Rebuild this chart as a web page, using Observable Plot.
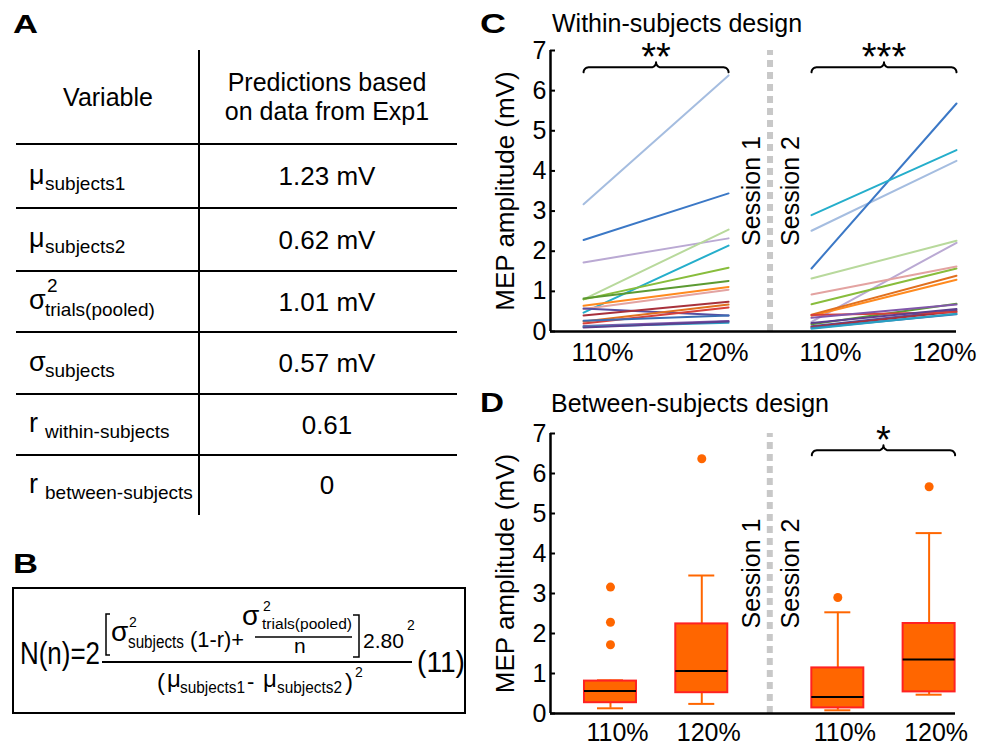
<!DOCTYPE html>
<html>
<head>
<meta charset="utf-8">
<script src="https://cdn.jsdelivr.net/npm/d3@7"></script>
<script src="https://cdn.jsdelivr.net/npm/@observablehq/plot@0.6"></script>
<style>
html, body { margin: 0; padding: 0; background: #fff; }
#page { position: relative; width: 988px; height: 745px; overflow: hidden; background: #fff;
        font-family: "Liberation Sans", Arial, Helvetica, sans-serif; }
#page svg { position: absolute; }
</style>
</head>
<body>
<div id="page"></div>
<script>
const FONT = '"Liberation Sans", Arial, Helvetica, sans-serif';

// ================= DATA =================
// Panel C: 17 subjects, MEP amplitude (mV) at 110% and 120% in two sessions
const subjectIds = ["s01","s02","s03","s04","s05","s06","s07","s08","s09","s10","s11","s12","s13","s14","s15","s16","s17"];
const s1_110 = [3.17, 2.28, 1.72, 0.80, 0.47, 0.80, 0.82, 0.64, 0.56, 0.57, 0.40, 0.25, 0.20, 0.27, 0.14, 0.12, 0.10];
const s1_120 = [6.38, 3.44, 2.32, 2.54, 2.14, 1.59, 1.26, 1.11, 1.04, 0.40, 0.74, 0.67, 0.60, 0.40, 0.26, 0.22, 0.25];
const s2_110 = [2.51, 1.57, 0.24, 1.32, 2.90, 0.68, 0.18, 0.39, 0.92, 0.13, 0.11, 0.42, 0.41, 0.09, 0.34, 0.07, 0.21];
const s2_120 = [4.25, 5.68, 2.21, 2.26, 4.52, 1.57, 0.69, 1.29, 1.62, 0.53, 0.50, 1.39, 0.48, 0.43, 0.67, 0.44, 0.56];

const intensityLabels = ["110%", "120%"];
const sessionLabels = ["Session 1", "Session 2"];
const yTicks = [0, 1, 2, 3, 4, 5, 6, 7];
const yLabel = "MEP amplitude (mV)";
const titleC = "Within-subjects design";
const titleD = "Between-subjects design";
const sigC = ["**", "***"];
const sigD = ["*"];

// Panel D: box-plot summaries (session1 110, session1 120, session2 110, session2 120)
const boxGroups   = ["S1 110%", "S1 120%", "S2 110%", "S2 120%"];
const boxQ1       = [0.27, 0.52, 0.14, 0.54];
const boxMedian   = [0.565, 1.06, 0.41, 1.35];
const boxQ3       = [0.81, 2.24, 1.14, 2.25];
const whiskerLow  = [0.13, 0.24, 0.08, 0.47];
const whiskerHigh = [0.83, 3.45, 2.53, 4.51];
const outlierGroup = [0, 0, 0, 1, 2, 3];
const outlierValue = [3.16, 2.28, 1.72, 6.37, 2.90, 5.67];

// Panel A table
const tableHeadVar = "Variable";
const tableHeadPred = ["Predictions based", "on data from Exp1"];
const tableSymbols = ["\u03bc", "\u03bc", "\u03c3", "\u03c3", "r", "r"];
const tableSubscripts = ["subjects1", "subjects2", "trials(pooled)", "subjects", "within-subjects", "between-subjects"];
const tableSuperscripts = ["", "", "2", "", "", ""];
const tableValues = ["1.23 mV", "0.62 mV", "1.01 mV", "0.57 mV", "0.61", "0"];

// Panel B formula pieces (typeset text)
const formulaPieces = [
  {t: "N(n)=2", x: 20, y: 664, fs: 31, tl: 80},
  {t: "\u03c3", x: 111, y: 641, fs: 28},
  {t: "2", x: 129, y: 627, fs: 14},
  {t: "subjects", x: 128, y: 648, fs: 18, tl: 56},
  {t: "(1-r)+", x: 190, y: 647, fs: 22, tl: 54},
  {t: "\u03c3", x: 242, y: 625, fs: 28},
  {t: "2", x: 263, y: 611, fs: 14},
  {t: "trials(pooled)", x: 262, y: 629, fs: 15.5, tl: 90},
  {t: "n", x: 294, y: 653, fs: 21},
  {t: "2.80", x: 363, y: 648, fs: 21, tl: 41},
  {t: "2", x: 407, y: 630, fs: 14},
  {t: "(11)", x: 417, y: 672, fs: 30, tl: 48},
  {t: "(", x: 157, y: 690, fs: 24},
  {t: "\u03bc", x: 167, y: 687, fs: 24},
  {t: "subjects1", x: 180, y: 693, fs: 16, tl: 65},
  {t: "-", x: 247, y: 689, fs: 22},
  {t: "\u03bc", x: 263, y: 687, fs: 24},
  {t: "subjects2", x: 277, y: 693, fs: 16, tl: 65},
  {t: ")", x: 345, y: 690, fs: 24},
  {t: "2", x: 355, y: 677, fs: 14}
];

// Styles
const subjectColors = ["#a5bde0","#3b78c6","#baa9d3","#b8d99c","#25aecb","#88bd3c","#5c9a32","#ff8a1f",
                       "#e3a3a1","#574ea0","#a8313b","#e0701f","#d7403b","#3b6db3","#8157aa","#2aa0c2","#5d3f8f"];
const ORANGE = "#ff6600", BOXEDGE = "#ff2222", DOTGRAY = "#c8c8c8";

// ================= STATIC OVERLAY (panels A, B, letters, titles) =================
const page = d3.select("#page");
const ov = page.append("svg").attr("width", 988).attr("height", 745)
  .style("left", "0px").style("top", "0px").attr("font-family", FONT);

function txt(x, y, s, fs, o = {}) {
  const t = ov.append("text").attr("x", x).attr("y", y).attr("font-size", fs).attr("fill", "#000").text(s);
  if (o.anchor) t.attr("text-anchor", o.anchor);
  if (o.bold) t.attr("font-weight", "bold");
  if (o.tl) t.attr("textLength", o.tl).attr("lengthAdjust", "spacingAndGlyphs");
  return t;
}
function seg(x1, y1, x2, y2, w = 2) {
  ov.append("line").attr("x1", x1).attr("y1", y1).attr("x2", x2).attr("y2", y2)
    .attr("stroke", "#000").attr("stroke-width", w);
}
function poly(pts, w = 1.5) {
  ov.append("polyline").attr("points", pts.map(p => p.join(",")).join(" "))
    .attr("fill", "none").attr("stroke", "#000").attr("stroke-width", w);
}

// panel letters & titles
txt(13, 33, "A", 26, {bold: true, tl: 25});
txt(13, 573, "B", 28, {bold: true, tl: 25});
txt(480, 33, "C", 28, {bold: true, tl: 26});
txt(480, 412, "D", 27, {bold: true, tl: 24});
txt(552, 32, titleC, 25);
txt(551, 412, titleD, 25);

// Table (panel A)
const tblX0 = 16, tblX1 = 457, tblColX = 199, tblTop = 50, tblHead = 144;
const rowBottoms = [208, 271, 332, 394, 455, 515];
seg(tblColX, tblTop, tblColX, rowBottoms[rowBottoms.length - 1], 2);
seg(tblX0, tblHead, tblX1, tblHead, 2);
rowBottoms.slice(0, -1).forEach(y => seg(tblX0, y, tblX1, y, 2));
txt(108, 106, tableHeadVar, 25, {anchor: "middle"});
txt(327, 91, tableHeadPred[0], 25, {anchor: "middle"});
txt(327, 120, tableHeadPred[1], 25, {anchor: "middle"});
tableValues.forEach((v, i) => {
  const top = i === 0 ? tblHead : rowBottoms[i - 1];
  const c = (top + rowBottoms[i]) / 2;
  txt(327, c + 9.3, v, 26, {anchor: "middle"});
  txt(29, c + 7.5, tableSymbols[i], 27);
  if (tableSuperscripts[i]) {
    txt(47, c - 9.5, tableSuperscripts[i], 19);
    txt(45, c + 14, tableSubscripts[i], 19);
  } else {
    txt(45, c + 13.5, tableSubscripts[i], 19);
  }
});

// Formula (panel B)
ov.append("rect").attr("x", 13).attr("y", 588).attr("width", 452).attr("height", 125)
  .attr("fill", "none").attr("stroke", "#000").attr("stroke-width", 2);
formulaPieces.forEach(p => txt(p.x, p.y, p.t, p.fs, {tl: p.tl}));
seg(102, 662, 412, 662, 2);
seg(255, 637, 352, 637, 1.5);
poly([[110, 614], [106, 614], [106, 655], [110, 655]]);
poly([[353, 615], [359, 615], [359, 657], [353, 657]]);

// ================= HELPERS =================
function bracePoints(x1, x2, yb, kx, ky, r = 5, n = 8) {
  const L = (x2 - x1) * kx, M = L / 2, P = [];
  const arc = (cx, cy, a0, a1) => {
    for (let k = 0; k <= n; k++) {
      const a = a0 + (a1 - a0) * k / n;
      P.push([cx + r * Math.cos(a), cy + r * Math.sin(a)]);
    }
  };
  arc(r, r, Math.PI, 1.5 * Math.PI);
  arc(M - r, -r, 0.5 * Math.PI, 0);
  arc(M + r, -r, Math.PI, 0.5 * Math.PI);
  arc(L - r, r, 1.5 * Math.PI, 2 * Math.PI);
  return P.map(([px, py]) => ({x: x1 + px / kx, y: yb - py / ky}));
}

const yMid = (yTicks[0] + yTicks[yTicks.length - 1]) / 2;
const BRACE_Y = 6.58;

// ================= PANEL C =================
const xDomC = [-0.228, 2.572], xRangeC = [70, 476];
const yRangeC = [331, 50];
const kxC = (xRangeC[1] - xRangeC[0]) / (xDomC[1] - xDomC[0]);
const kyC = (yRangeC[0] - yRangeC[1]) / 7;
const sessionOffsetC = 1.572;
const posC = [[0, 1], [sessionOffsetC, sessionOffsetC + 1]];
const sessionsC = [[s1_110, s1_120], [s2_110, s2_120]];
const lineData = [];
sessionsC.forEach((sess, si) => {
  subjectIds.forEach((id, i) => {
    sess.forEach((vals, ii) => lineData.push({id, key: id + "-" + si, x: posC[si][ii], y: vals[i]}));
  });
});
const midC = (posC[0][1] + posC[1][0]) / 2;
const x0C = xDomC[0];

const plotC = Plot.plot({
  width: 508, height: 370,
  marginLeft: 70, marginRight: 32, marginTop: 50, marginBottom: 39,
  x: {domain: xDomC, range: xRangeC},
  y: {domain: [0, 7], range: yRangeC},
  color: {domain: subjectIds, range: subjectColors},
  style: {fontFamily: FONT, background: "transparent", color: "black", overflow: "visible"},
  marks: [
    Plot.ruleX([midC], {y1: 0, y2: 7, stroke: DOTGRAY, strokeWidth: 6, strokeDasharray: "7,5"}),
    Plot.line(lineData, {x: "x", y: "y", z: "key", stroke: "id", strokeWidth: 2}),
    Plot.ruleX([x0C], {y1: 0, y2: 7, stroke: "black", strokeWidth: 2.5}),
    Plot.ruleY([0], {stroke: "black", strokeWidth: 2.5}),
    Plot.ruleY(yTicks, {x1: x0C, x2: x0C + 5 / kxC, stroke: "black", strokeWidth: 2}),
    Plot.axisY(yTicks, {tickSize: 0, tickPadding: 4, fontSize: 25, label: null}),
    Plot.axisX([posC[0][0], posC[1][0]], {tickSize: 0, tickPadding: 12, fontSize: 25, dx: 19, label: null, tickFormat: () => intensityLabels[0]}),
    Plot.axisX([posC[0][1], posC[1][1]], {tickSize: 0, tickPadding: 12, fontSize: 25, dx: -12, label: null, tickFormat: () => intensityLabels[1]}),
    Plot.text([yLabel], {x: () => x0C - 45 / kxC, y: () => yMid, rotate: -90, textAnchor: "middle", fontSize: 26}),
    Plot.text([sessionLabels[0]], {x: () => midC, y: () => yMid, rotate: -90, dx: -18, fontSize: 25}),
    Plot.text([sessionLabels[1]], {x: () => midC, y: () => yMid, rotate: -90, dx: 21, fontSize: 25}),
    Plot.line(bracePoints(posC[0][0], posC[0][1], BRACE_Y, kxC, kyC), {x: "x", y: "y", stroke: "black", strokeWidth: 2}),
    Plot.line(bracePoints(posC[1][0], posC[1][1], BRACE_Y, kxC, kyC), {x: "x", y: "y", stroke: "black", strokeWidth: 2}),
    Plot.text([{t: sigC[0], x: (posC[0][0] + posC[0][1]) / 2}, {t: sigC[1], x: (posC[1][0] + posC[1][1]) / 2}],
      {x: "x", y: () => BRACE_Y, text: "t", lineAnchor: "bottom", dy: 3, fontSize: 38})
  ]
});
plotC.style.left = "480px";
plotC.style.top = "0px";
page.node().appendChild(plotC);

// ================= PANEL D =================
const xDomD = [-0.657, 3.779], xRangeD = [70, 475];
const yRangeD = [330, 50];
const kxD = (xRangeD[1] - xRangeD[0]) / (xDomD[1] - xDomD[0]);
const kyD = (yRangeD[0] - yRangeD[1]) / 7;
const sessionOffsetD = 2.49;
const boxHalf = 26 / kxD, capHalf = 13 / kxD;
const boxData = boxGroups.map((g, i) => ({
  group: g,
  pos: (i % 2) + Math.floor(i / 2) * sessionOffsetD,
  q1: boxQ1[i], med: boxMedian[i], q3: boxQ3[i], lo: whiskerLow[i], hi: whiskerHigh[i],
  label: intensityLabels[i % 2]
}));
const outliers = outlierValue.map((v, i) => ({pos: boxData[outlierGroup[i]].pos, v}));
const midD = (boxData[1].pos + boxData[2].pos) / 2;
const x0D = xDomD[0];
const labelByPos = new Map(boxData.map(d => [d.pos, d.label]));
const braceD1 = boxData[2].pos - boxHalf, braceD2 = boxData[3].pos + boxHalf;

const plotD = Plot.plot({
  width: 508, height: 362,
  marginLeft: 70, marginRight: 33, marginTop: 50, marginBottom: 32,
  x: {domain: xDomD, range: xRangeD},
  y: {domain: [0, 7], range: yRangeD},
  style: {fontFamily: FONT, background: "transparent", color: "black", overflow: "visible"},
  marks: [
    Plot.ruleX([midD], {y1: 0, y2: 7, stroke: DOTGRAY, strokeWidth: 6, strokeDasharray: "7,5"}),
    Plot.ruleX(boxData, {x: "pos", y1: "q3", y2: "hi", stroke: ORANGE, strokeWidth: 2}),
    Plot.ruleX(boxData, {x: "pos", y1: "lo", y2: "q1", stroke: ORANGE, strokeWidth: 2}),
    Plot.ruleY(boxData, {y: "hi", x1: d => d.pos - capHalf, x2: d => d.pos + capHalf, stroke: ORANGE, strokeWidth: 2}),
    Plot.ruleY(boxData, {y: "lo", x1: d => d.pos - capHalf, x2: d => d.pos + capHalf, stroke: ORANGE, strokeWidth: 2}),
    Plot.rect(boxData, {x1: d => d.pos - boxHalf, x2: d => d.pos + boxHalf, y1: "q1", y2: "q3",
      fill: ORANGE, stroke: BOXEDGE, strokeWidth: 2}),
    Plot.ruleY(boxData, {y: "med", x1: d => d.pos - boxHalf, x2: d => d.pos + boxHalf, stroke: "black", strokeWidth: 2}),
    Plot.dot(outliers, {x: "pos", y: "v", r: 4.5, fill: ORANGE, stroke: null}),
    Plot.ruleX([x0D], {y1: 0, y2: 7, stroke: "black", strokeWidth: 2.5}),
    Plot.ruleY([0], {stroke: "black", strokeWidth: 2.5}),
    Plot.ruleY(yTicks, {x1: x0D, x2: x0D + 5 / kxD, stroke: "black", strokeWidth: 2}),
    Plot.axisY(yTicks, {tickSize: 0, tickPadding: 4, fontSize: 25, label: null}),
    Plot.axisX(boxData.map(d => d.pos), {tickSize: 0, tickPadding: 10, fontSize: 25, dx: 7, label: null,
      tickFormat: d => labelByPos.get(d)}),
    Plot.text([yLabel], {x: () => x0D - 45 / kxD, y: () => yMid, rotate: -90, textAnchor: "middle", fontSize: 26}),
    Plot.text([sessionLabels[0]], {x: () => midD, y: () => yMid, rotate: -90, dx: -18, fontSize: 25}),
    Plot.text([sessionLabels[1]], {x: () => midD, y: () => yMid, rotate: -90, dx: 21, fontSize: 25}),
    Plot.line(bracePoints(braceD1, braceD2, BRACE_Y, kxD, kyD), {x: "x", y: "y", stroke: "black", strokeWidth: 2}),
    Plot.text([{t: sigD[0], x: (braceD1 + braceD2) / 2}], {x: "x", y: () => BRACE_Y, text: "t", lineAnchor: "bottom", dy: 3, fontSize: 38})
  ]
});
plotD.style.left = "480px";
plotD.style.top = "383px";
page.node().appendChild(plotD);
</script>
</body>
</html>
